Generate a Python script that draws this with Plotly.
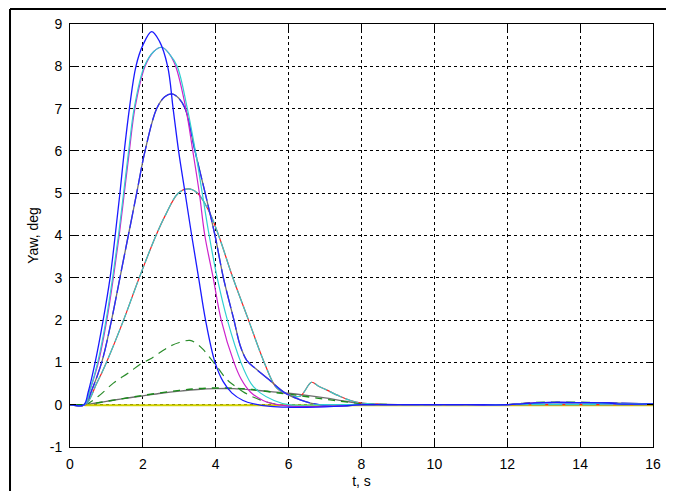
import plotly.graph_objects as go

# ---------------- data ----------------
X_TICKS = [0, 2, 4, 6, 8, 10, 12, 14, 16]
Y_TICKS = [-1, 0, 1, 2, 3, 4, 5, 6, 7, 8, 9]

# blue, tallest (peak ~8.8)
a_t = [0, 0.38, 0.5, 0.69, 0.91, 1.10, 1.24, 1.37, 1.49, 1.63, 1.81, 2.0, 2.24, 2.45, 2.68, 2.83,
       2.98, 3.16, 3.34, 3.53, 3.72, 3.98, 4.2, 4.44, 4.75, 5.05, 5.5, 6.0, 6.5, 7.0, 7.5, 8.0,
       9, 10, 11, 12, 12.4, 13, 14, 14.8, 15, 16]
a_v = [0, 0, 0.3, 1, 2, 3, 4, 5, 6, 7, 8, 8.5, 8.82, 8.6, 8, 7,
       6, 5, 4, 3, 2, 1, 0.55, 0.28, 0.1, 0.02, -0.04, -0.06, -0.06, -0.05, -0.03, 0,
       0, 0, 0, 0, 0.02, 0.05, 0.05, 0.04, 0.02, 0.02]

# cyan, peak ~8.45
b_t = [0, 0.4, 0.55, 0.76, 0.99, 1.17, 1.33, 1.47, 1.61, 1.76, 2.04, 2.3, 2.52, 2.72, 2.94,
       3.22, 3.44, 3.63, 3.82, 4.04, 4.32, 4.69, 4.97, 5.22, 5.6, 6.0, 7, 8, 9, 10, 11, 12,
       12.5, 13, 14, 15, 16]
b_v = [0, 0, 0.35, 1, 2, 3, 4, 5, 6, 7, 8, 8.35, 8.45, 8.3, 8,
       7, 6, 5, 4, 3, 2, 1, 0.5, 0.28, 0.1, 0.0, 0, 0, 0, 0, 0, 0,
       0.02, 0.04, 0.04, 0.02, 0.02]

# magenta, peak ~8.45
c_t = [0, 0.4, 0.55, 0.78, 1.01, 1.19, 1.35, 1.49, 1.63, 1.78, 2.06, 2.3, 2.52, 2.72, 2.9,
       3.18, 3.37, 3.55, 3.7, 3.93, 4.15, 4.5, 4.7, 4.95, 5.3, 5.7, 6.2, 7.0, 7.5, 8,
       9, 10, 11, 12, 12.5, 13, 14, 15, 16]
c_v = [0, 0, 0.35, 1, 2, 3, 4, 5, 6, 7, 8, 8.35, 8.45, 8.3, 8,
       7, 6, 5, 4, 3, 2, 1, 0.6, 0.3, 0.1, 0, -0.04, -0.04, -0.02, 0,
       0, 0, 0, 0, 0.03, 0.05, 0.04, 0.02, 0.02]

# blue, peak ~7.35 (grey underneath)
d_t = [0, 0.4, 0.6, 0.87, 1.14, 1.37, 1.6, 1.83, 2.06, 2.38, 2.6, 2.79, 2.98, 3.16, 3.43,
       3.71, 3.98, 4.21, 4.5, 4.67, 4.85, 5.1, 5.45, 5.9, 6.3, 6.6, 7.0, 7.5, 8,
       9, 10, 11, 12, 12.5, 13, 14, 14.8, 16]
d_v = [0, 0, 0.35, 1, 2, 3, 4, 5, 6, 7, 7.28, 7.35, 7.25, 7, 6,
       5, 4, 3, 2, 1.4, 1.05, 0.85, 0.6, 0.28, 0.12, 0.04, -0.02, -0.03, 0,
       0, 0, 0, 0, 0.03, 0.05, 0.05, 0.04, 0.02]

# cyan over red, peak ~5.1, bump near 6.6 s
e_t = [0, 0.42, 0.73, 1.0, 1.47, 1.9, 2.36, 2.63, 2.97, 3.25, 3.5, 3.8, 4.08, 4.47, 4.9,
       5.33, 5.67, 6.0, 6.31, 6.63, 6.8, 7.04, 7.4, 7.7, 8.0, 8.5, 9, 10, 11, 12, 16]
e_v = [0, 0, 0.5, 1, 2, 3, 4, 4.5, 5, 5.1, 5, 4.6, 4, 3, 2,
       1, 0.4, 0.24, 0.2, 0.53, 0.45, 0.35, 0.2, 0.1, 0.04, 0.01, 0, 0, 0, 0, 0]

# green dashed, peak ~1.5
f_t = [0, 0.42, 0.78, 1.19, 1.6, 1.97, 2.2, 2.5, 2.74, 3.0, 3.29, 3.45, 3.66, 4.03, 4.3,
       4.48, 4.8, 5.2, 5.6, 6.0, 7.0, 8.0, 9, 10, 11, 12, 12.5, 13, 14, 15, 16]
f_v = [0, 0, 0.2, 0.51, 0.75, 0.98, 1.08, 1.25, 1.38, 1.47, 1.52, 1.46, 1.3, 0.9, 0.6,
       0.47, 0.28, 0.12, 0.02, -0.02, -0.02, 0, 0, 0, 0, 0, 0.04, 0.06, 0.06, 0.03, 0.02]

# grey, small (peak ~0.38)
g_t = [0, 0.4, 1.0, 1.5, 2.0, 2.5, 3.0, 3.5, 4.0, 4.5, 5.0, 5.5, 6.0, 6.5, 7.0, 7.5, 8.0,
       8.5, 9, 10, 11, 12, 16]
g_v = [0, 0, 0.08, 0.15, 0.21, 0.27, 0.32, 0.36, 0.38, 0.38, 0.35, 0.31, 0.27, 0.22, 0.16,
       0.09, 0.03, 0.01, 0, 0, 0, 0, 0]

# dark green dashed along the grey one
g2_t = [0, 0.4, 1, 2, 3, 3.5, 4, 4.5, 5, 5.5, 6, 7, 8, 9, 16]
g2_v = [0, 0, 0.08, 0.22, 0.34, 0.38, 0.395, 0.39, 0.36, 0.3, 0.25, 0.13, 0.03, 0, 0]

# yellow and green flat lines at zero
h_t = [0.4, 16]
h_v = [-0.012, -0.012]
z_t = [0, 0.45]
z_v = [0, 0]

# ---------------- figure ----------------
fig = go.Figure()


def add(t, v, color, width=1.2, dash="solid", shape="spline"):
    fig.add_trace(go.Scatter(
        x=t, y=v, mode="lines",
        line=dict(color=color, width=width, dash=dash, shape=shape, smoothing=1.0),
        hoverinfo="skip", showlegend=False))


add(g_t, g_v, "#6e6e6e", 1.4)
add(g2_t, g2_v, "#1a8a1a", 1.4, "7px,6px")
add(z_t, z_v, "#008000", 1.3, shape="linear")
add(f_t, f_v, "#2a8c2a", 1.2, "9px,6px")
add(h_t, h_v, "#d2d200", 2.0, shape="linear")
add(e_t, e_v, "#ff2020", 1.2)
add(e_t, e_v, "#30cccc", 1.2, "14px,3px")
add(d_t, d_v, "#707070", 1.3)
add(d_t, d_v, "#2b2bff", 1.3, "18px,4px")
add(c_t, c_v, "#cc22cc", 1.2)
add(b_t, b_v, "#30d0d0", 1.2)
add(a_t, a_v, "#1a1aff", 1.3)

axis_common = dict(
    showgrid=True, gridcolor="black", griddash="3px,3px", gridwidth=1,
    showline=True, linecolor="black", linewidth=1, mirror="ticks",
    ticks="inside", ticklen=6, tickcolor="black", tickwidth=1,
    zeroline=False, tickfont=dict(size=14, color="black"),
)

fig.update_xaxes(range=[0, 16], tickvals=X_TICKS, ticktext=[str(v) for v in X_TICKS],
                 title=dict(text="t, s", font=dict(size=14), standoff=5),
                 ticklabelstandoff=4, **axis_common)
fig.update_yaxes(range=[-1, 9], tickvals=Y_TICKS, ticktext=[str(v) for v in Y_TICKS],
                 title=dict(text="Yaw, deg", font=dict(size=14), standoff=7),
                 ticklabelstandoff=4, **axis_common)

# outer frame (top and left edges of the figure window)
frame = dict(type="line", xref="paper", yref="paper", line=dict(color="black", width=2))
fig.update_layout(
    width=680, height=491,
    # the page adds an 8px body offset, so the plot box is shifted up/left to compensate
    margin=dict(l=62, r=35, t=16, b=52, autoexpand=False),
    paper_bgcolor="white", plot_bgcolor="white",
    font=dict(family="Liberation Sans, Arial, sans-serif", size=14, color="black"),
    showlegend=False,
    shapes=[
        dict(frame, x0=-0.1029, x1=1.0223, y0=1.0355, y1=1.0355),
        dict(frame, x0=-0.1029, x1=-0.1029, y0=1.0355, y1=-0.13),
    ],
)

fig.write_html("out.html")
